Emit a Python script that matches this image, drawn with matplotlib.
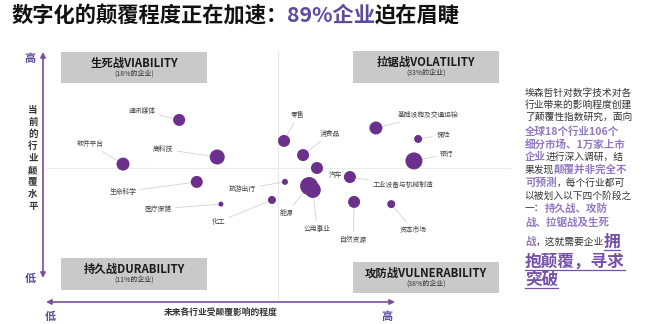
import matplotlib
matplotlib.use('Agg')
import matplotlib.pyplot as plt
from matplotlib.patches import Rectangle, FancyArrowPatch

plt.rcParams['font.family'] = ['Noto Sans CJK SC', 'DejaVu Sans']

# 行业数据：横轴=未来受颠覆影响程度，纵轴=当前颠覆水平（0-10）
industries = ['软件平台', '通讯媒体', '高科技', '生命科学', '医疗保健', '化工',
              '旅游出行', '零售', '消费品', '汽车', '能源', '公用事业',
              '工业设备与机械制造', '自然资源', '资本市场', '基础设施及交通运输',
              '保险', '银行']
future_impact = [1.66, 2.87, 3.69, 3.25, 3.77, 4.87, 5.15, 5.13, 5.54, 5.84,
                 5.67, 5.75, 6.55, 6.64, 7.44, 7.11, 8.02, 7.93]
current_level = [5.16, 6.97, 5.45, 4.43, 3.52, 3.69, 4.43, 6.11, 5.53, 5.00,
                 4.26, 4.10, 4.63, 3.61, 3.52, 6.64, 6.19, 5.29]
bubble_size = [6.5, 6, 7.5, 6, 2.5, 4, 3, 6, 6, 6, 9, 8, 6, 6, 4, 6.5, 4, 8.5]

# 标签位置（同一坐标系）
label_x = [0.95, 2.07, 2.52, 1.66, 2.41, 3.71, 4.22, 5.43, 6.12, 6.23,
           5.19, 5.84, 7.69, 6.62, 7.91, 8.23, 8.56, 8.64]
label_y = [5.98, 7.34, 5.78, 4.02, 3.32, 2.79, 4.14, 7.17, 6.39, 4.71,
           3.16, 2.50, 4.30, 2.05, 2.46, 7.17, 6.35, 5.57]

quadrant_names = ['生死战VIABILITY', '拉锯战VOLATILITY', '持久战DURABILITY', '攻防战VULNERABILITY']
quadrant_share = ['18%', '33%', '11%', '38%']

PURPLE = '#6b2f8c'
ARROW = '#7a4e9c'
TITLE_P = '#5b4a9e'
HIGH_P = '#9279c2'
BIG_P = '#7450a6'
BODY = '#333333'

fig = plt.figure(figsize=(6.6, 3.24), dpi=100)
bg = fig.add_axes([0, 0, 1, 1])
bg.set_xlim(0, 660)
bg.set_ylim(324, 0)
bg.axis('off')

ax = fig.add_axes([46 / 660, 34 / 324, 464 / 660, 244 / 324])
ax.set_xlim(0, 10)
ax.set_ylim(0, 10)
ax.axis('off')

renderer = fig.canvas.get_renderer()


def rich(x, y, parts, va='center'):
    for s, color, size, weight in parts:
        t = bg.text(x, y, s, color=color, fontsize=size, fontweight=weight,
                    ha='left', va=va)
        x += t.get_window_extent(renderer).width
    return x


# 标题
rich(11, 15, [('数字化的颠覆程度正在加速：', '#111111', 15.3, 'heavy'),
              ('89%企业', TITLE_P, 15.3, 'heavy'),
              ('迫在眉睫', '#111111', 15.3, 'heavy')])

# 分隔线
ax.axvline(5, ymin=-0.04, ymax=0.98, color='#e8e8e8', lw=0.8, clip_on=False, zorder=0)
ax.axhline(5, xmin=0.0, xmax=1.0, color='#ececec', lw=0.8, clip_on=False, zorder=0)

# 象限框
boxes = [(61, 52, 146, 31), (353, 51, 146, 32), (61, 258, 146, 32), (353, 262, 146, 31)]
for (bx, by, bw, bh), name, share in zip(boxes, quadrant_names, quadrant_share):
    bg.add_patch(Rectangle((bx, by), bw, bh, facecolor='#c9c9c9', edgecolor='none'))
    bg.text(bx + bw / 2, by + 11, name, ha='center', va='center',
            fontsize=8.2, fontweight='bold', color='#1a1a1a')
    bg.text(bx + bw / 2, by + 22, '(' + share + '的企业)', ha='center', va='center',
            fontsize=5.0, color='#333333')

# 气泡与标签
for name, x, y, r, lx, ly in zip(industries, future_impact, current_level,
                                 bubble_size, label_x, label_y):
    ax.annotate(name, xy=(x, y), xytext=(lx, ly), fontsize=4.9, color='#444444',
                ha='center', va='center', zorder=2,
                arrowprops=dict(arrowstyle='-', color='#d2d2d2', lw=0.6,
                                shrinkA=1, shrinkB=r * 0.72))
ax.scatter(future_impact, current_level, s=[(2 * r * 0.72) ** 2 for r in bubble_size],
           color=PURPLE, edgecolors='none', zorder=3)

# 坐标轴箭头
bg.add_patch(FancyArrowPatch((43, 278), (43, 52), arrowstyle='<|-|>,head_length=3,head_width=1.5',
                             color=ARROW, lw=1.2, mutation_scale=1, shrinkA=0, shrinkB=0))
bg.add_patch(FancyArrowPatch((46, 302), (395, 302), arrowstyle='<|-|>,head_length=3,head_width=1.5',
                             color=ARROW, lw=1.2, mutation_scale=1, shrinkA=0, shrinkB=0))
bg.text(30, 58, '高', ha='center', va='center', fontsize=8, fontweight='bold', color=TITLE_P)
bg.text(30, 278, '低', ha='center', va='center', fontsize=8, fontweight='bold', color=TITLE_P)
bg.text(50, 316, '低', ha='center', va='center', fontsize=8, fontweight='bold', color=TITLE_P)
bg.text(387, 316, '高', ha='center', va='center', fontsize=8, fontweight='bold', color=TITLE_P)
bg.text(33, 158, '\n'.join('当前的行业颠覆水平'), ha='center', va='center',
        fontsize=6.8, fontweight='bold', color='#333333', linespacing=1.25)
bg.text(221, 313, '未来各行业受颠覆影响的程度', ha='center', va='center',
        fontsize=6.3, fontweight='bold', color='#333333')

# 右侧说明
K = (BODY, 7.0, 'normal')
P = (HIGH_P, 7.6, 'bold')
B = (BIG_P, 12, 'bold')
lines = [
    (93, [('埃森哲针对数字技术对各', K)]),
    (105, [('行业带来的影响程度创建', K)]),
    (117, [('了颠覆性指数研究，面向', K)]),
    (132, [('全球18个行业106个', P)]),
    (145, [('细分市场、1万家上市', P)]),
    (157, [('企业', P), ('进行深入调研，结', K)]),
    (170, [('果发现', K), ('颠覆并非完全不', P)]),
    (183, [('可预测', P), ('，每个行业都可', K)]),
    (196, [('以被划入以下四个阶段之', K)]),
    (208, [('一：', K), ('持久战、攻防', P)]),
    (223, [('战、拉锯战及生死', P)]),
    (242, [('战', P), ('，这就需要企业', K), ('拥', B)]),
    (262, [('抱颠覆，寻求', B)]),
    (280, [('突破', B)]),
]
for y, segs in lines:
    x_end = rich(525, y, [(s,) + st for s, st in segs])
    if segs[-1][1] is B:
        start = 525 if len(segs) == 1 else x_end - 16
        bg.plot([start, x_end], [y + 8, y + 8], color=BIG_P, lw=0.9)

fig.savefig('out.png', dpi=100)
